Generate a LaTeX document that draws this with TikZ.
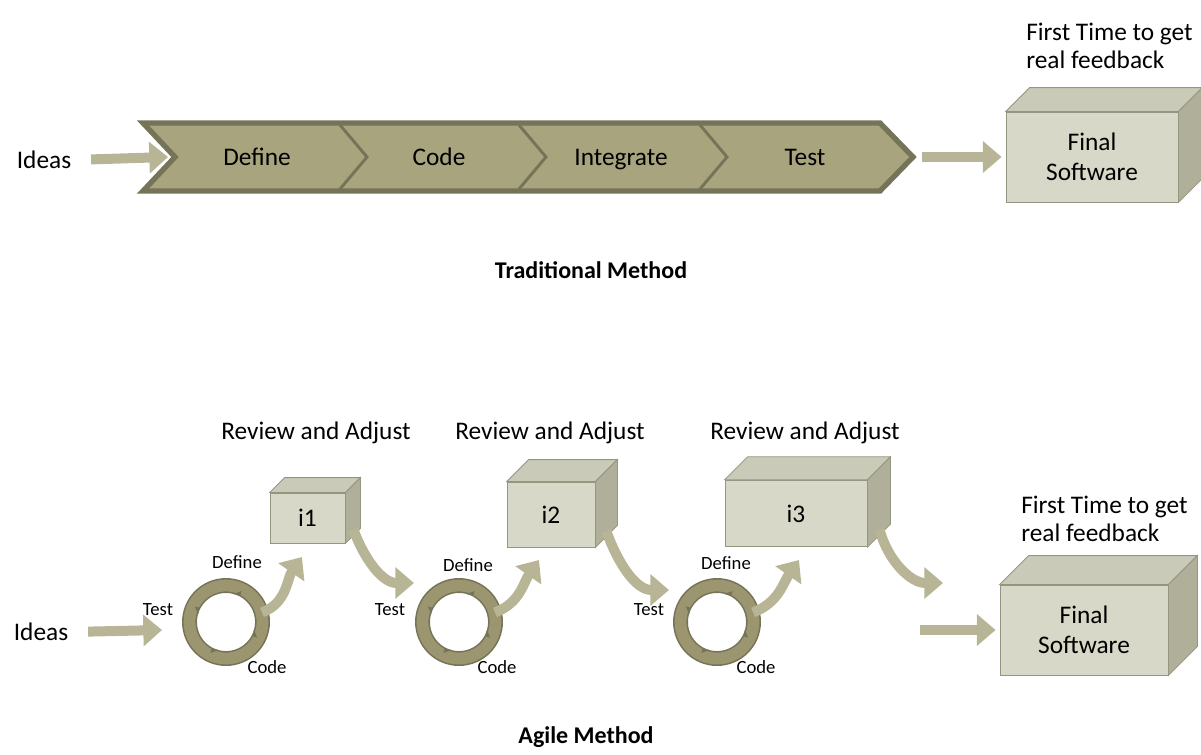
\documentclass[tikz,border=0pt]{standalone}
\usepackage{fontspec}
\setmainfont{Carlito}
\usepackage{tikz}
\usetikzlibrary{calc}
\usetikzlibrary{arrows.meta}

\definecolor{bandfill}{RGB}{168,164,126}
\definecolor{bandedge}{RGB}{118,116,88}
\definecolor{arrowfill}{RGB}{184,181,150}
\definecolor{boxfront}{RGB}{216,216,200}
\definecolor{boxtop}{RGB}{202,202,184}
\definecolor{boxside}{RGB}{176,176,154}
\definecolor{boxedge}{RGB}{150,150,128}
\definecolor{ringfill}{RGB}{156,150,112}

% faces of a box node: name, depth
\newcommand{\boxfaces}[2]{%
  \filldraw[fill=boxtop,draw=boxedge,line width=0.6pt] (#1.north west) -- ++(#2,-#2) -- ($(#1.north east)+(#2,-#2)$) -- (#1.north east) -- cycle;
  \filldraw[fill=boxside,draw=boxedge,line width=0.6pt] (#1.north east) -- ++(#2,-#2) -- ($(#1.south east)+(#2,-#2)$) -- (#1.south east) -- cycle;}

\begin{document}
\begin{tikzpicture}[x=0.75pt,y=0.75pt,yscale=-1,
    lbl/.style={inner sep=0.75pt,font=\fontsize{19}{22.5}\selectfont},
    small/.style={inner sep=0.75pt,font=\fontsize{14}{16}\selectfont},
    title/.style={inner sep=0.75pt,font=\fontsize{18}{21}\selectfont\bfseries},
    fat/.style={draw=arrowfill,line width=7.5pt,-{Triangle[width=23pt,length=14pt]}},
    cube/.style={draw=boxedge,fill=boxfront,line width=0.6pt,inner sep=0pt,align=center,font=\fontsize{19}{22.5}\selectfont},
    ring/.style={circle,draw=bandedge,double=ringfill,double distance=8.8pt,line width=1.2pt,minimum size=54.75pt,inner sep=0pt}]
\useasboundingbox (0,0) rectangle (1201,754);

%%%% Traditional method
%Shape: chevron band
\filldraw[fill=bandfill,draw=bandedge,line width=4pt] (143,123) -- (880,123) -- (913,157) -- (880,191) -- (143,191) -- (175,157) -- cycle;
\foreach \sx in {340,519,700}
  \draw[bandedge,line width=2.2pt] (\sx,125) -- ++(27,32) -- ++(-27,32);
\coordinate (bandL) at (168,157);
\coordinate (bandR) at (922,157);

% Text Node
\node[lbl] (ideasT) at (44,160) {Ideas};
\node[lbl] (defT) at (257,157) {Define};
\node[lbl] (codeT) at (439,157) {Code};
\node[lbl] (intT) at (621,160) {Integrate};
\node[lbl] (testT) at (805,157) {Test};

%Shape: final box
\node[cube,minimum width=129pt,minimum height=67.5pt] (finT) at (1092,157) {Final\\Software};
\boxfaces{finT}{24}
\node[lbl,anchor=west,align=left,font=\fontsize{19}{21}\selectfont] (fbT) at (1025,46) {First Time to get\\real feedback};

\draw[fat,shorten <=14pt] (ideasT.east) -- (bandL);
\draw[fat,shorten >=3pt] (bandR) -- (finT.west);

\node[title] (tradT) at (591,270) {Traditional Method};

%%%% Agile method
\node[lbl] (ideasB) at (41,632) {Ideas};
\coordinate (a0) at (162,630);
\draw[fat,shorten <=14pt] (ideasB.east) -- (a0);

% iteration boxes
\node[cube,minimum width=56.25pt,minimum height=37.5pt] (i1) at (307.5,518) {i1};
\boxfaces{i1}{15}
\node[cube,minimum width=66pt,minimum height=48.75pt] (i2) at (551,514.5) {i2};
\boxfaces{i2}{22}
\node[cube,minimum width=106.5pt,minimum height=50pt] (i3) at (796,513.5) {i3};
\boxfaces{i3}{23}

\node[lbl] (rv1) at (316,433) {Review and Adjust};
\node[lbl] (rv2) at (550,433) {Review and Adjust};
\node[lbl] (rv3) at (805,433) {Review and Adjust};

% cycles
\foreach \n/\cx in {1/226,2/459,3/717}{
  \node[ring] (r\n) at (\cx,622) {};
  \foreach \ang in {15,105,195,285}
    \fill[bandedge] (r\n.center) ++(\ang:29) -- ++(\ang+90:7) -- ++(\ang:5) -- cycle;
}

\node[small] (t1) at (158,610) {Test};
\node[small] (d1) at (237,562) {Define};
\node[small] (c1) at (267,667) {Code};
\node[small] (t2) at (390,610) {Test};
\node[small] (d2) at (468,565) {Define};
\node[small] (c2) at (497,667) {Code};
\node[small] (t3) at (649,610) {Test};
\node[small] (d3) at (726,563) {Define};
\node[small] (c3) at (756,667) {Code};

% up arrows
\coordinate (u1) at (302,557);
\coordinate (u2) at (539,560);
\coordinate (u3) at (799,560);
\draw[fat] (r1.15) to[out=-20,in=125] (u1);
\draw[fat] (r2.15) to[out=-20,in=125] (u2);
\draw[fat] (r3.15) to[out=-20,in=125] (u3);

% down arrows
\coordinate (e1) at (414,583);
\coordinate (e2) at (669,590);
\coordinate (e3) at (943,583);
\draw[fat] ($(i1.south east)+(8,-14)$) to[out=70,in=180] (e1);
\draw[fat] ($(i2.south east)+(11,-16)$) to[out=70,in=180] (e2);
\draw[fat] ($(i3.south east)+(12,-18)$) to[out=75,in=180] (e3);

%Shape: final box
\node[cube,minimum width=126pt,minimum height=67.5pt] (finB) at (1084,630) {Final\\Software};
\boxfaces{finB}{29}
\node[lbl,anchor=west,align=left,font=\fontsize{19}{21}\selectfont] (fbB) at (1020,519) {First Time to get\\real feedback};
\coordinate (s4) at (920,630);
\draw[fat,shorten >=3pt] (s4) -- (finB.west);

\node[title] (agileT) at (586,737) {Agile Method};
\end{tikzpicture}
\end{document}
